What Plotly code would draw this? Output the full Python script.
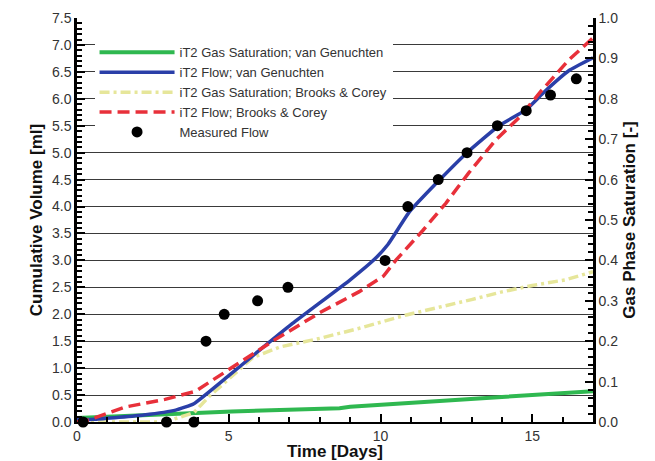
import plotly.graph_objects as go

# Measured flow (left axis, ml)
meas_t = [0.2, 2.95, 3.85, 4.25, 4.85, 5.95, 6.95, 10.15, 10.9, 11.9, 12.85, 13.85, 14.8, 15.6, 16.45]
meas_v = [0.0, 0.0, 0.0, 1.5, 2.0, 2.25, 2.5, 3.0, 4.0, 4.5, 5.0, 5.5, 5.78, 6.07, 6.37]

# iT2 Flow; van Genuchten (left axis)
vg_flow_t = [0, 0.6, 2.2, 3.25, 3.85, 5.0, 5.75, 7.1, 9.0, 9.8, 10.25, 10.95, 11.85, 12.85, 13.9, 14.8, 15.4, 16.2, 17.0]
vg_flow_v = [0.04, 0.05, 0.13, 0.22, 0.34, 0.86, 1.21, 1.83, 2.64, 3.02, 3.3, 3.9, 4.44, 5.0, 5.5, 5.8, 6.13, 6.52, 6.76]

# iT2 Flow; Brooks & Corey (left axis)
bc_flow_t = [0, 0.4, 1.6, 2.9, 3.9, 4.95, 6.5, 8.0, 9.3, 10.1, 10.5, 11.4, 12.15, 12.9, 13.8, 14.6, 15.3, 16.2, 17.0]
bc_flow_v = [0.0, 0.04, 0.28, 0.42, 0.57, 0.96, 1.52, 2.03, 2.42, 2.71, 3.0, 3.56, 4.06, 4.62, 5.24, 5.67, 6.15, 6.72, 7.13]

# iT2 Gas Saturation; van Genuchten (right axis)
vg_sat_t = [0, 1.0, 2.0, 3.25, 3.8, 5.1, 8.65, 9.0, 14.0, 16.9, 17.0]
vg_sat_v = [0.01, 0.013, 0.017, 0.021, 0.023, 0.026, 0.034, 0.038, 0.062, 0.075, 0.076]

# iT2 Gas Saturation; Brooks & Corey (right axis)
bc_sat_t = [0, 2.9, 3.6, 3.85, 4.35, 4.95, 5.8, 6.7, 8.0, 9.3, 10.85, 13.0, 14.0, 15.0, 16.1, 17.0]
bc_sat_v = [0.0, 0.0, 0.017, 0.023, 0.063, 0.104, 0.16, 0.186, 0.207, 0.232, 0.265, 0.303, 0.322, 0.338, 0.352, 0.372]

FONT = "Liberation Sans, Arial, sans-serif"
TXT = "#333333"

fig = go.Figure()
# saturation on base axis "y" (right side), flows on overlay "y2" (left side) so flows/points draw on top
fig.add_trace(go.Scatter(x=vg_sat_t, y=vg_sat_v, yaxis="y", mode="lines",
                         name="iT2 Gas Saturation; van Genuchten",
                         line=dict(color="#2fb850", width=4)))
fig.add_trace(go.Scatter(x=vg_flow_t, y=vg_flow_v, yaxis="y2", mode="lines",
                         name="iT2 Flow; van Genuchten",
                         line=dict(color="#2a3fa8", width=3.5, shape="spline", smoothing=0.4)))
fig.add_trace(go.Scatter(x=bc_sat_t, y=bc_sat_v, yaxis="y", mode="lines",
                         name="iT2 Gas Saturation; Brooks & Corey",
                         line=dict(color="#e6e69a", width=3.5, dash="10px,4px,3px,4px")))
fig.add_trace(go.Scatter(x=bc_flow_t, y=bc_flow_v, yaxis="y2", mode="lines",
                         name="iT2 Flow; Brooks & Corey",
                         line=dict(color="#e8303a", width=3.5, dash="12px,6px")))
fig.add_trace(go.Scatter(x=meas_t, y=meas_v, yaxis="y2", mode="markers",
                         name="Measured Flow", cliponaxis=False,
                         marker=dict(color="black", size=11)))

fig.update_layout(
    width=647, height=453,
    margin=dict(l=69, r=62, t=10, b=39),
    paper_bgcolor="white", plot_bgcolor="white",
    font=dict(family=FONT, size=14, color=TXT),
    showlegend=True,
    legend=dict(x=0.034, y=0.952, xanchor="left", yanchor="top",
                bgcolor="white", borderwidth=0, itemwidth=75,
                font=dict(family=FONT, size=13, color=TXT),
                tracegroupgap=0),
    xaxis=dict(range=[0, 17], tickvals=[0, 5, 10, 15], ticktext=["0", "5", "10", "15"],
               ticks="inside", ticklen=8, tickwidth=2, tickcolor="black", automargin=False,
               showline=True, linewidth=2, linecolor="black", showgrid=False, zeroline=False,
               minor=dict(dtick=1, ticks="inside", ticklen=5, tickwidth=1.5, tickcolor="black", showgrid=False),
               title=dict(text="<b>Time [Days]</b>", font=dict(family=FONT, size=17, color="#111"), standoff=2),
               tickfont=dict(size=14, color=TXT)),
    yaxis2=dict(range=[0, 7.5], dtick=0.5, tickformat=".1f", automargin=False,
                overlaying="y", side="left",
                ticks="inside", ticklen=8, tickwidth=2, tickcolor="black",
                showline=True, linewidth=2.5, linecolor="black",
                showgrid=True, gridcolor="#3a3a3a", gridwidth=1, zeroline=False,
                minor=dict(dtick=0.1, ticks="inside", ticklen=5, tickwidth=1.5, tickcolor="black", showgrid=False),
                title=dict(text="<b>Cumulative Volume [ml]</b>", font=dict(family=FONT, size=17, color="#111"), standoff=6),
                tickfont=dict(size=14, color=TXT)),
    yaxis=dict(range=[0, 1.0], dtick=0.1, tickformat=".1f", side="right", automargin=False,
               ticks="inside", ticklen=8, tickwidth=2, tickcolor="black",
               showline=True, linewidth=2.5, linecolor="black",
               showgrid=False, zeroline=False,
               minor=dict(dtick=0.02, ticks="inside", ticklen=5, tickwidth=1.5, tickcolor="black", showgrid=False),
               title=dict(text="<b>Gas Phase Saturation [-]</b>", font=dict(family=FONT, size=17, color="#111"), standoff=6),
               tickfont=dict(size=14, color=TXT)),
)

fig.write_html("out.html")
